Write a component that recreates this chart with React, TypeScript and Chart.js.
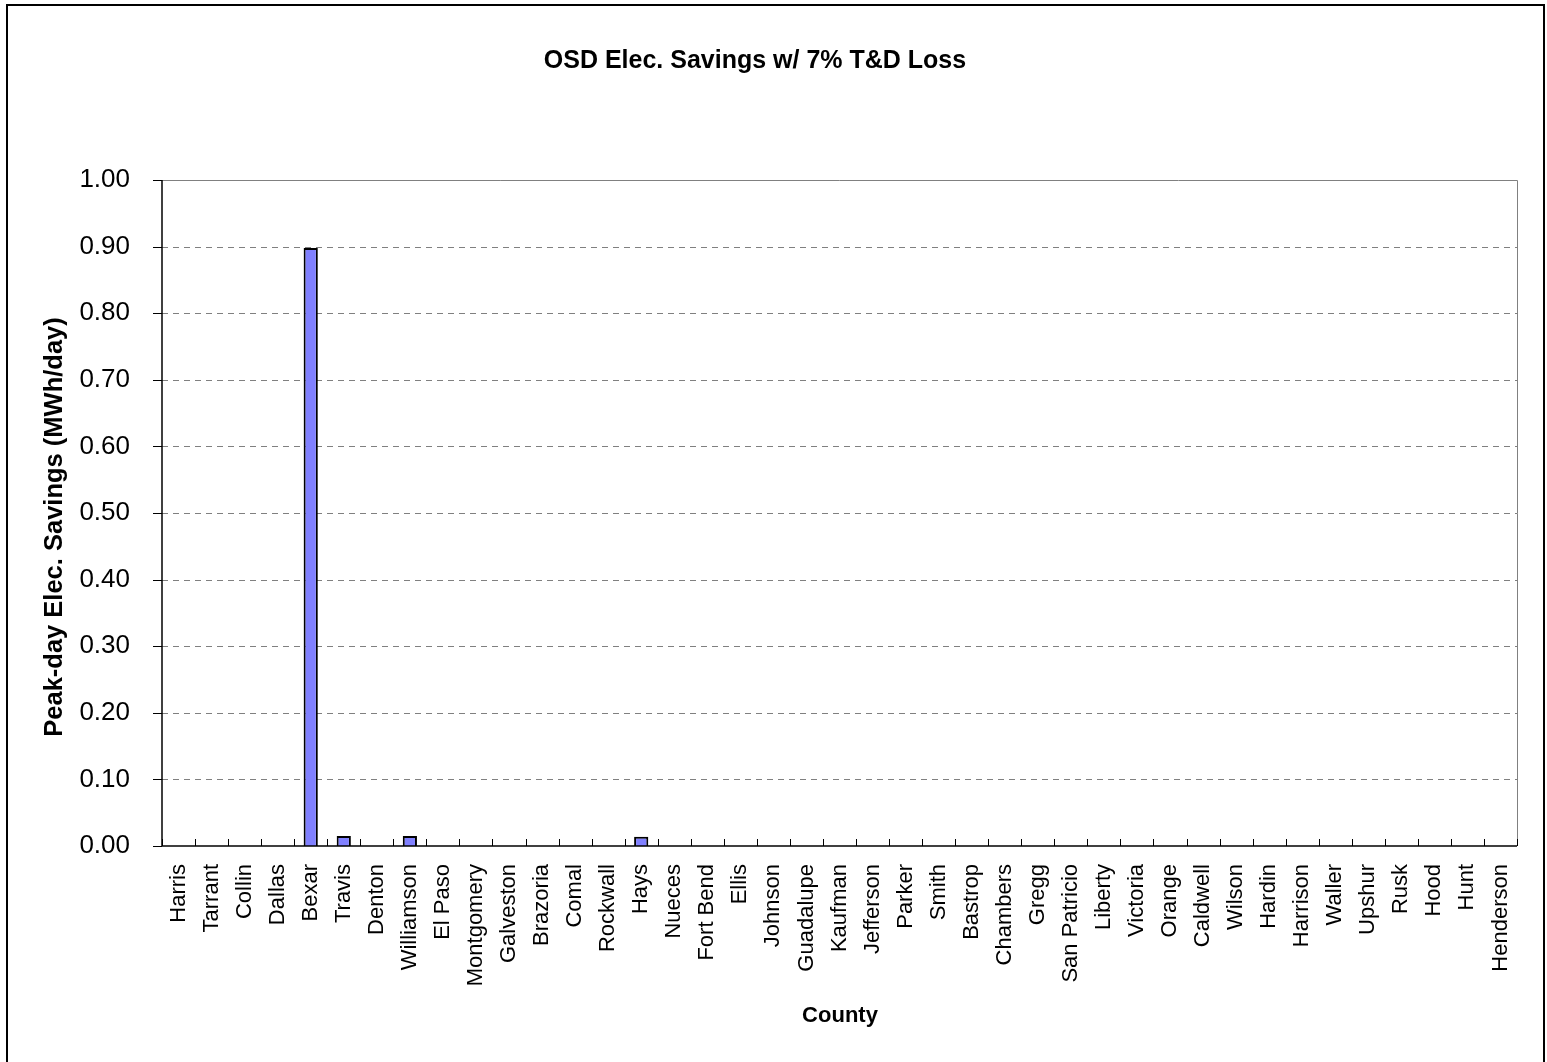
import React, { useEffect, useRef } from "react";
import { Chart, registerables } from "chart.js";

Chart.register(...registerables);

const counties: string[] = [
  "Harris", "Tarrant", "Collin", "Dallas", "Bexar", "Travis", "Denton", "Williamson",
  "El Paso", "Montgomery", "Galveston", "Brazoria", "Comal", "Rockwall", "Hays", "Nueces",
  "Fort Bend", "Ellis", "Johnson", "Guadalupe", "Kaufman", "Jefferson", "Parker", "Smith",
  "Bastrop", "Chambers", "Gregg", "San Patricio", "Liberty", "Victoria", "Orange", "Caldwell",
  "Wilson", "Hardin", "Harrison", "Waller", "Upshur", "Rusk", "Hood", "Hunt", "Henderson",
];

const savings: number[] = [
  0, 0, 0, 0, 0.898, 0.015, 0, 0.015,
  0, 0, 0, 0, 0, 0, 0.014, 0,
  0, 0, 0, 0, 0, 0, 0, 0,
  0, 0, 0, 0, 0, 0, 0, 0,
  0, 0, 0, 0, 0, 0, 0, 0, 0,
];

const yMin = 0;
const yMax = 1;
const yStep = 0.1;

const chartTitle = "OSD Elec. Savings w/ 7% T&D Loss";
const yTitle = "Peak-day Elec. Savings (MWh/day)";
const xTitle = "County";

const FONT = "'Liberation Sans', Arial, Helvetica, sans-serif";

const decorPlugin = {
  id: "decor",
  beforeDatasetsDraw(chart: any) {
    const { ctx, chartArea } = chart;
    const y = chart.scales.y;
    const { left, right, top, bottom } = chartArea;
    ctx.save();
    ctx.strokeStyle = "#808080";
    ctx.lineWidth = 1;
    ctx.setLineDash([6, 5]);
    for (let v = yMin + yStep; v < yMax - 1e-9; v += yStep) {
      const py = Math.round(y.getPixelForValue(v)) + 0.5;
      ctx.beginPath();
      ctx.moveTo(left, py);
      ctx.lineTo(right, py);
      ctx.stroke();
    }
    ctx.setLineDash([]);
    ctx.strokeStyle = "#808080";
    ctx.beginPath();
    ctx.moveTo(left, top + 0.5);
    ctx.lineTo(right + 0.5, top + 0.5);
    ctx.lineTo(right + 0.5, bottom);
    ctx.stroke();
    ctx.restore();
  },
  afterDatasetsDraw(chart: any) {
    const { ctx, chartArea } = chart;
    const y = chart.scales.y;
    const { left, right, top, bottom } = chartArea;
    ctx.save();
    ctx.strokeStyle = "#000";
    ctx.lineWidth = 1.5;
    ctx.beginPath();
    ctx.moveTo(left, top);
    ctx.lineTo(left, bottom);
    ctx.stroke();
    ctx.beginPath();
    ctx.moveTo(left, bottom);
    ctx.lineTo(right, bottom);
    ctx.stroke();
    ctx.lineWidth = 1;
    for (let v = yMin; v <= yMax + 1e-9; v += yStep) {
      const py = Math.round(y.getPixelForValue(v)) + 0.5;
      ctx.beginPath();
      ctx.moveTo(left - 9, py);
      ctx.lineTo(left, py);
      ctx.stroke();
    }
    const n = counties.length;
    const w = (right - left) / n;
    for (let i = 0; i <= n; i++) {
      const px = Math.round(left + i * w) + 0.5;
      ctx.beginPath();
      ctx.moveTo(px, bottom - 7);
      ctx.lineTo(px, bottom);
      ctx.stroke();
    }
    ctx.restore();
  },
  afterDraw(chart: any) {
    const { ctx } = chart;
    ctx.save();
    ctx.strokeStyle = "#000";
    ctx.lineWidth = 2;
    ctx.strokeRect(7, 5, 1537, 1100);
    ctx.fillStyle = "#000";
    ctx.textAlign = "center";
    ctx.textBaseline = "alphabetic";
    ctx.font = `bold 25px ${FONT}`;
    ctx.fillText(chartTitle, 755, 68);
    ctx.font = `bold 22px ${FONT}`;
    ctx.fillText(xTitle, 840, 1022);
    ctx.translate(62, 527);
    ctx.rotate(-Math.PI / 2);
    ctx.font = `bold 25.5px ${FONT}`;
    ctx.fillText(yTitle, 0, 0);
    ctx.restore();
  },
};

export default function App() {
  const canvasRef = useRef<HTMLCanvasElement | null>(null);

  useEffect(() => {
    if (!canvasRef.current) return;
    const chart = new Chart(canvasRef.current, {
      type: "bar",
      data: {
        labels: counties,
        datasets: [
          {
            label: "Savings",
            data: savings,
            backgroundColor: "#8080FF",
            borderColor: "#000000",
            borderWidth: 2,
            borderSkipped: "bottom",
            categoryPercentage: 1,
            barPercentage: 0.43,
          },
        ],
      },
      options: {
        animation: false,
        responsive: false,
        maintainAspectRatio: false,
        devicePixelRatio: 1,
        layout: { padding: { left: 0, top: 180, right: 30, bottom: 0 } },
        plugins: {
          legend: { display: false },
          title: { display: false },
          tooltip: { enabled: false },
        },
        scales: {
          x: {
            grid: { display: false, drawTicks: false },
            border: { display: false },
            ticks: {
              autoSkip: false,
              minRotation: 90,
              maxRotation: 90,
              padding: 18,
              color: "#000",
              font: { family: FONT, size: 22 },
            },
            afterFit: (scale: any) => {
              scale.height = 216;
            },
          },
          y: {
            min: yMin,
            max: yMax,
            grid: { display: false, drawTicks: false },
            border: { display: false },
            ticks: {
              stepSize: yStep,
              padding: 32,
              color: "#000",
              font: { family: FONT, size: 26 },
              callback: (v: any) => Number(v).toFixed(2),
            },
            afterFit: (scale: any) => {
              scale.width = 162;
            },
          },
        },
      },
      plugins: [decorPlugin],
    });
    return () => chart.destroy();
  }, []);

  return (
    <div style={{ position: "fixed", left: 0, top: 0, width: 1547, height: 1062, background: "#fff" }}>
      <canvas ref={canvasRef} width={1547} height={1062} style={{ display: "block", width: 1547, height: 1062 }} />
    </div>
  );
}
